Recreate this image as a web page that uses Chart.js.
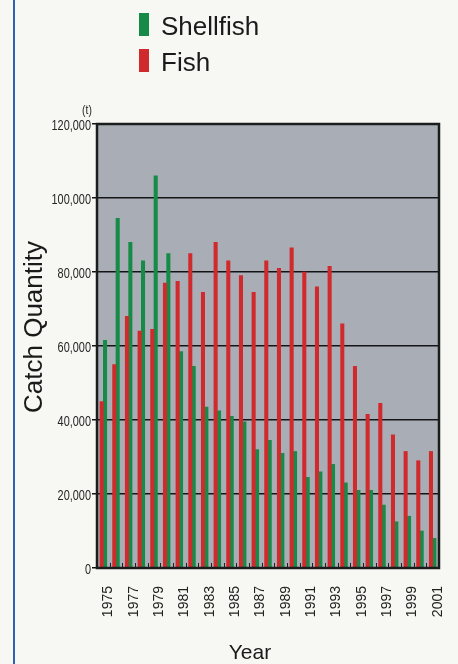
<!DOCTYPE html>
<html>
<head>
<meta charset="utf-8">
<script src="https://cdn.jsdelivr.net/npm/chart.js@4.4.1/dist/chart.umd.min.js"></script>
<style>
  html, body { margin: 0; padding: 0; background: #f7f7f4; }
  #wrap { position: relative; width: 458px; height: 664px; overflow: hidden; }
  #edge { position: absolute; left: 13px; top: 0; width: 2px; height: 664px; background: #2f62b5; }
  #catchChart { position: absolute; left: 0; top: 0; }
</style>
</head>
<body>
<div id="wrap">
  <div id="edge"></div>
  <canvas id="catchChart" width="458" height="664"></canvas>
</div>
<script>
// years shown on the x axis (every other one gets a label)
const years = ['1975','1976','1977','1978','1979','1980','1981','1982','1983','1984',
  '1985','1986','1987','1988','1989','1990','1991','1992','1993','1994',
  '1995','1996','1997','1998','1999','2000','2001'];

// catch quantity in tonnes
const fishCatch = [45000, 55000, 68000, 64000, 64500, 77000, 77500, 85000, 74500, 88000,
  83000, 79000, 74500, 83000, 81000, 86500, 80000, 76000, 81500, 66000,
  54500, 41500, 44500, 36000, 31500, 29000, 31500];
const shellfishCatch = [61500, 94500, 88000, 83000, 106000, 85000, 58500, 54500, 43500, 42500,
  41000, 39500, 32000, 34500, 31000, 31500, 24500, 26000, 28000, 23000,
  21000, 21000, 17000, 12500, 14000, 10000, 8000];

const yTicks = [0, 20000, 40000, 60000, 80000, 100000, 120000];

const GREEN = '#168b48';
const RED = '#d02a2d';
const sans = '"Liberation Sans", Arial, sans-serif';

// condensed text: no narrow font installed, so squeeze it horizontally
function narrowText(ctx, text, x, y, size, squeeze) {
  ctx.save();
  ctx.font = size + 'px ' + sans;
  ctx.translate(x, y);
  ctx.scale(squeeze, 1);
  ctx.fillText(text, 0, 0);
  ctx.restore();
}

// grey plot background + heavy frame + small inside ticks + texts + legend
const decorations = {
  id: 'decorations',
  beforeDraw(chart) {
    const { ctx, chartArea: a } = chart;
    ctx.save();
    ctx.fillStyle = '#a9aeb6';
    ctx.fillRect(a.left, a.top, a.right - a.left, a.bottom - a.top);
    ctx.restore();
  },
  afterDatasetsDraw(chart) {
    const { ctx, chartArea: a, scales: { x } } = chart;
    ctx.save();
    ctx.strokeStyle = '#1f1f1f';
    ctx.lineWidth = 1;
    for (let i = 1; i < years.length; i++) {
      const px = Math.round((x.getPixelForValue(i - 1) + x.getPixelForValue(i)) / 2) + 0.5;
      ctx.beginPath();
      ctx.moveTo(px, a.bottom - 5);
      ctx.lineTo(px, a.bottom);
      ctx.stroke();
    }
    ctx.lineWidth = 2.5;
    ctx.strokeStyle = '#1b1d1d';
    ctx.strokeRect(a.left, a.top, a.right - a.left, a.bottom - a.top);
    ctx.restore();
  },
  afterDraw(chart) {
    const { ctx, scales: { y } } = chart;
    ctx.save();
    ctx.fillStyle = '#262626';
    ctx.textBaseline = 'middle';
    ctx.textAlign = 'right';
    yTicks.forEach(v => {
      narrowText(ctx, v.toLocaleString('en-US'), 91, y.getPixelForValue(v) + 2, 14, 0.78);
    });
    ctx.textAlign = 'center';
    ctx.textBaseline = 'alphabetic';
    narrowText(ctx, '(t)', 87, 114, 13, 0.8);

    // axis titles
    ctx.fillStyle = '#1a1a1a';
    ctx.font = '21px ' + sans;
    ctx.fillText('Year', 250, 659);
    ctx.save();
    ctx.translate(42, 327);
    ctx.rotate(-Math.PI / 2);
    ctx.font = '26px ' + sans;
    ctx.fillText('Catch Quantity', 0, 0);
    ctx.restore();

    // legend: Shellfish first, then Fish
    const items = [chart.data.datasets[1], chart.data.datasets[0]];
    const baselines = [35, 71];
    ctx.textAlign = 'left';
    ctx.font = '26px ' + sans;
    items.forEach((ds, i) => {
      ctx.fillStyle = ds.backgroundColor;
      ctx.fillRect(139, baselines[i] - 22, 10, 23);
      ctx.fillStyle = '#1a1a1a';
      ctx.fillText(ds.label, 161, baselines[i]);
    });
    ctx.restore();
  }
};

new Chart(document.getElementById('catchChart'), {
  type: 'bar',
  data: {
    labels: years,
    datasets: [
      {
        label: 'Fish',
        data: fishCatch,
        backgroundColor: RED,
        barThickness: 3.4,
        categoryPercentage: 0.74
      },
      {
        label: 'Shellfish',
        data: shellfishCatch,
        backgroundColor: GREEN,
        barThickness: 3.4,
        categoryPercentage: 0.74
      }
    ]
  },
  options: {
    responsive: false,
    animation: false,
    layout: { padding: { top: 124, right: 19, left: 0, bottom: 0 } },
    plugins: {
      legend: { display: false },
      tooltip: { enabled: false }
    },
    scales: {
      x: {
        afterFit: (s) => { s.height = 96; s.paddingLeft = 0; s.paddingRight = 0; },
        grid: { display: false, drawTicks: false },
        border: { display: false },
        ticks: {
          autoSkip: false,
          minRotation: 90,
          maxRotation: 90,
          padding: 18,
          labelOffset: 5,
          color: '#222',
          font: { family: sans, size: 14 },
          callback: function (value, index) {
            return index % 2 === 0 ? years[index] : '';
          }
        }
      },
      y: {
        min: 0,
        max: 120000,
        afterFit: (s) => { s.width = 97; s.paddingTop = 0; s.paddingBottom = 0; },
        afterBuildTicks: (s) => { s.ticks = yTicks.map(v => ({ value: v })); },
        grid: {
          color: '#141414',
          lineWidth: 1.5,
          tickLength: 5,
          drawTicks: true
        },
        border: { display: false },
        ticks: { display: false }
      }
    }
  },
  plugins: [decorations]
});
</script>
</body>
</html>
